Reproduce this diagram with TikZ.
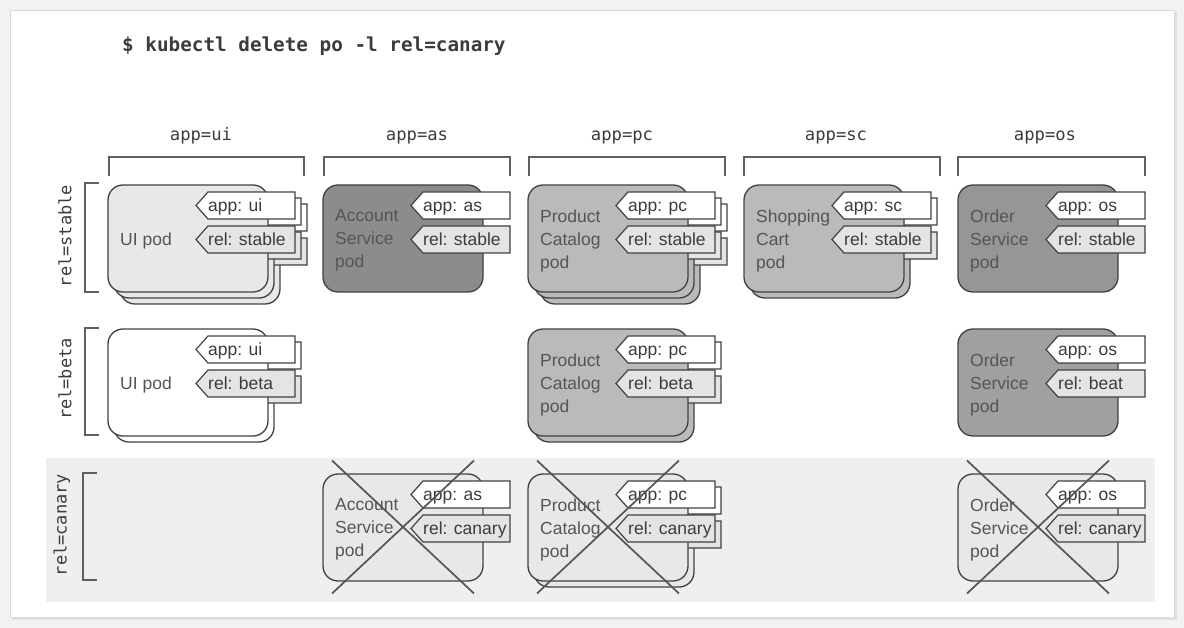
\documentclass[tikz,border=0pt]{standalone}
\usepackage{fontspec}
\setmainfont{Liberation Sans}
\newfontfamily\monofont{DejaVu Sans Mono}
\usetikzlibrary{calc}
\definecolor{linec}{RGB}{65,65,65}
\definecolor{textc}{RGB}{60,60,60}
\definecolor{podtxt}{RGB}{85,85,85}
\definecolor{brc}{RGB}{95,95,95}
\definecolor{xc}{RGB}{85,85,85}
\definecolor{relc}{RGB}{228,228,228}
\definecolor{bandc}{RGB}{239,239,239}
\definecolor{canpod}{RGB}{232,232,232}
\definecolor{outerc}{RGB}{242,242,242}
\definecolor{podlight}{RGB}{232,232,232}
\definecolor{poddark}{RGB}{140,140,140}
\definecolor{podmid}{RGB}{186,186,186}
\definecolor{podos}{RGB}{150,150,150}
\definecolor{podosb}{RGB}{160,160,160}
\tikzset{
  podbox/.style={draw=linec, line width=1.3pt, rounded corners=15pt, minimum width=160pt, minimum height=107pt, inner sep=0pt, outer sep=0pt, anchor=north west},
  tagshape/.style={draw=linec, line width=1.2pt},
  tagtext/.style={font=\fontsize{17.5}{20}\selectfont, text=textc, inner sep=0pt, anchor=base west},
  podtext/.style={font=\fontsize{17.5}{23}\selectfont, text=podtxt, inner sep=0pt, anchor=west, align=left},
  bracket/.style={draw=brc, line width=1.2pt},
  xline/.style={draw=xc, line width=1.7pt},
  hdr/.style={font=\monofont\fontsize{17.2}{20}\selectfont, text=textc, inner sep=0pt, anchor=base},
  rowlbl/.style={font=\monofont\fontsize{17}{20}\selectfont, text=textc, inner sep=0pt, rotate=90, anchor=center},
}
\newcommand{\podback}[4]{%
  \begin{scope}[shift={(#1,#2)}]
    \node[podbox, fill=#3] (#4) at (0,0) {};
    \draw[tagshape, fill=white] (100,7) -- (187,7) -- (187,34) -- (100,34) -- (88,20.5) -- cycle;
    \draw[tagshape, fill=relc] (100,41) -- (187,41) -- (187,68) -- (100,68) -- (88,54.5) -- cycle;
  \end{scope}}
\newcommand{\podfront}[7]{%
  \begin{scope}[shift={(#2,#3)}]
    \node[podbox, fill=#4] (#1) at (0,0) {};
    \draw[tagshape, fill=white] (100,7) -- (187,7) -- (187,34) -- (100,34) -- (88,20.5) -- cycle;
    \draw[tagshape, fill=relc] (100,41) -- (187,41) -- (187,68) -- (100,68) -- (88,54.5) -- cycle;
    \node[podtext] (#1-name) at (12,55.5) {#5};
    \node[tagtext] (#1-app) at (100,26.8) {#6};
    \node[tagtext] (#1-rel) at (100,60.8) {#7};
  \end{scope}}
\newcommand{\crossout}[1]{%
  \draw[xline] ($(#1.center)+(-71,-67)$) -- ($(#1.center)+(71,66)$);
  \draw[xline] ($(#1.center)+(71,-67)$) -- ($(#1.center)+(-71,66)$);}
\begin{document}
\begin{tikzpicture}[x=1pt, y=-1pt]
\useasboundingbox (0,0) rectangle (1184,628);
% background and card
\fill[outerc] (0,0) rectangle (1184,628);
\fill[black!12] (12,12) rectangle (1177,620);
\fill[white, draw=black!15, line width=0.6pt] (10,10) rectangle (1174,617);
% canary band
\fill[bandc] (46,458) rectangle (1155,602);
% title
\node[font=\monofont\bfseries\fontsize{19.3}{23}\selectfont, text=textc, inner sep=0pt, anchor=base west] (title) at (122,52) {\$ kubectl delete po -l rel=canary};
% column headers
\node[hdr] (hui) at (201,141) {app=ui};
\node[hdr] (has) at (417,141) {app=as};
\node[hdr] (hpc) at (622,141) {app=pc};
\node[hdr] (hsc) at (836,141) {app=sc};
\node[hdr] (hos) at (1045,141) {app=os};
% column brackets
\draw[bracket] (109,176) -- (109,157) -- (304,157) -- (304,176);
\draw[bracket] (324,176) -- (324,157) -- (510,157) -- (510,176);
\draw[bracket] (529,176) -- (529,157) -- (725,157) -- (725,176);
\draw[bracket] (744,176) -- (744,157) -- (940,157) -- (940,176);
\draw[bracket] (958,176) -- (958,157) -- (1145,157) -- (1145,176);
% row brackets and labels
\draw[bracket] (99,183) -- (85,183) -- (85,292) -- (99,292);
\draw[bracket] (99,328) -- (85,328) -- (85,435) -- (99,435);
\draw[bracket] (97,473) -- (83,473) -- (83,580) -- (97,580);
\node[rowlbl] (lstable) at (65,236) {rel=stable};
\node[rowlbl] (lbeta) at (65,379) {rel=beta};
\node[rowlbl] (lcanary) at (62,525) {rel=canary};
% row stable
\podback{120}{197}{podlight}{uiS3}
\podback{114}{191}{podlight}{uiS2}
\podfront{uiS}{108}{185}{podlight}{UI pod}{app: ui}{rel: stable}
\podfront{asS}{323}{185}{poddark}{Account\\Service\\pod}{app: as}{rel: stable}
\podback{540}{197}{podmid}{pcS3}
\podback{534}{191}{podmid}{pcS2}
\podfront{pcS}{528}{185}{podmid}{Product\\Catalog\\pod}{app: pc}{rel: stable}
\podback{750}{191}{podmid}{scS2}
\podfront{scS}{744}{185}{podmid}{Shopping\\Cart\\pod}{app: sc}{rel: stable}
\podfront{osS}{958}{185}{podos}{Order\\Service\\pod}{app: os}{rel: stable}
% row beta
\podback{114}{335}{white}{uiB2}
\podfront{uiB}{108}{329}{white}{UI pod}{app: ui}{rel: beta}
\podback{534}{335}{podmid}{pcB2}
\podfront{pcB}{528}{329}{podmid}{Product\\Catalog\\pod}{app: pc}{rel: beta}
\podfront{osB}{958}{329}{podosb}{Order\\Service\\pod}{app: os}{rel: beat}
% row canary
\podfront{asC}{323}{474}{canpod}{Account\\Service\\pod}{app: as}{rel: canary}
\podback{534}{480}{canpod}{pcC2}
\podfront{pcC}{528}{474}{canpod}{Product\\Catalog\\pod}{app: pc}{rel: canary}
\podfront{osC}{958}{474}{canpod}{Order\\Service\\pod}{app: os}{rel: canary}
\crossout{asC}
\crossout{pcC}
\crossout{osC}
\end{tikzpicture}
\end{document}
